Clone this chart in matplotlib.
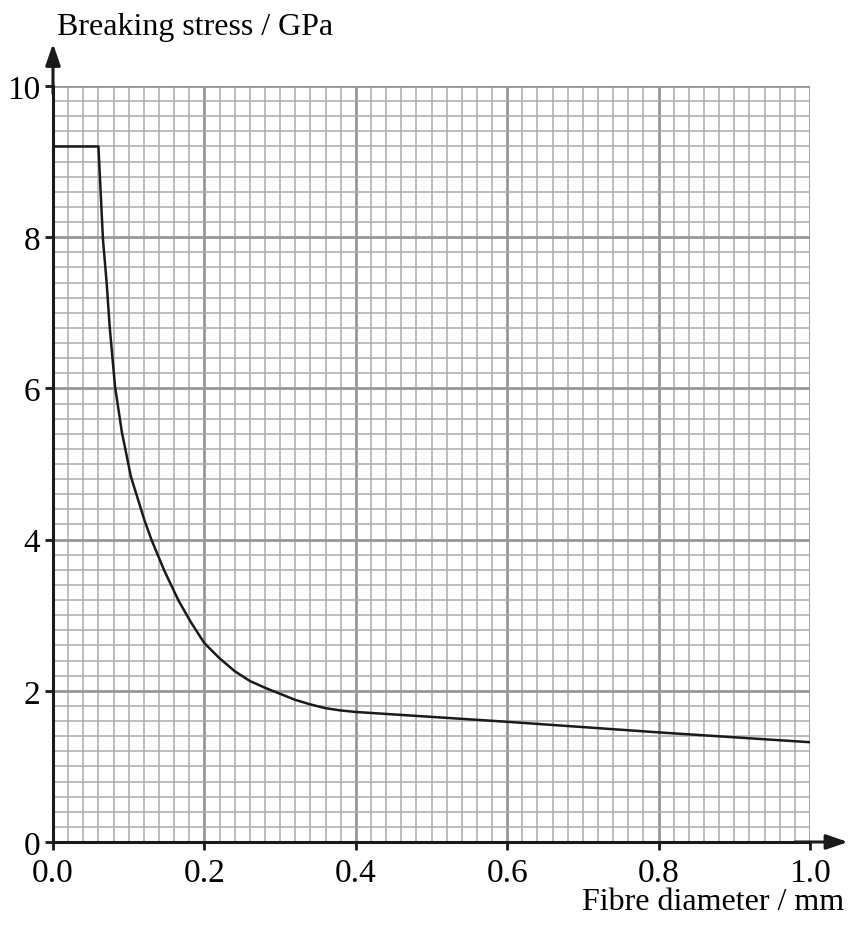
import matplotlib.pyplot as plt
from matplotlib.ticker import MultipleLocator

# valores
diametro = [0.0, 0.06, 0.066, 0.071, 0.075, 0.082, 0.091, 0.103, 0.121, 0.130,
            0.147, 0.166, 0.182, 0.200, 0.22, 0.24, 0.26, 0.28, 0.30, 0.32,
            0.34, 0.36, 0.38, 0.40, 0.6, 0.8, 1.0]
tensao = [9.2, 9.2, 7.97, 7.38, 6.8, 6.02, 5.42, 4.83, 4.25, 4.0,
          3.59, 3.19, 2.91, 2.63, 2.43, 2.26, 2.13, 2.04, 1.96, 1.88,
          1.82, 1.77, 1.74, 1.72, 1.59, 1.45, 1.32]
xticks = [0.0, 0.2, 0.4, 0.6, 0.8, 1.0]
xlabels = ['0.0', '0.2', '0.4', '0.6', '0.8', '1.0']
yticks = [0, 2, 4, 6, 8, 10]

plt.rcParams['font.family'] = ['Liberation Serif', 'DejaVu Serif']

fig = plt.figure(figsize=(8.48, 9.29), dpi=100)
ax = fig.add_axes([53 / 848, 86 / 929, 757 / 848, 756 / 929])

ax.set_xlim(0, 1.0)
ax.set_ylim(0, 10)

ax.xaxis.set_minor_locator(MultipleLocator(0.02))
ax.yaxis.set_minor_locator(MultipleLocator(0.2))
ax.set_xticks(xticks, xlabels)
ax.set_yticks(yticks)

ax.grid(which='minor', color='#ababab', lw=1.1)
ax.grid(which='major', color='#979797', lw=2.0)
ax.set_axisbelow(True)

ax.plot(diametro, tensao, color='#1a1a1a', lw=1.8, zorder=3,
        solid_joinstyle='round')

for s in ['top', 'right']:
    ax.spines[s].set_visible(False)
for s in ['left', 'bottom']:
    ax.spines[s].set_linewidth(2.2)
    ax.spines[s].set_color('#1a1a1a')

ax.tick_params(which='major', length=6, width=2, color='#1a1a1a',
               labelsize=24, pad=3)
ax.tick_params(axis='x', which='major', pad=5)
ax.tick_params(which='minor', length=0)

# setas dos eixos
seta = dict(arrowstyle='-|>,head_length=1.3,head_width=0.45', color='#1a1a1a',
            lw=2.2, shrinkA=0, shrinkB=0)
ax.annotate('', xy=(0, 10.56), xytext=(0, 9.9), arrowprops=seta,
            annotation_clip=False)
ax.annotate('', xy=(1.05, 0), xytext=(0.98, 0), arrowprops=seta,
            annotation_clip=False)

fig.text(57 / 848, 1 - 35 / 929, 'Breaking stress / GPa', fontsize=23,
         ha='left', va='baseline')
# no original o texto encosta na borda; aqui fica inteiro
fig.text(844 / 848, 1 - 910 / 929, 'Fibre diameter / mm', fontsize=23,
         ha='right', va='baseline')

fig.savefig('out.png', dpi=100)
